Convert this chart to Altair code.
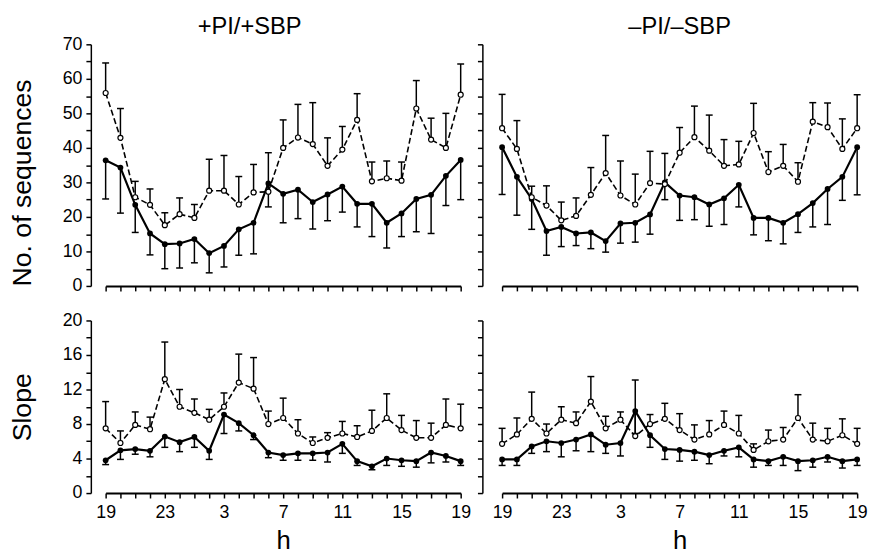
import altair as alt
import pandas as pd

FONT = "Liberation Sans"

# hour index 0..24  ->  19, 20, ..., 23, 0, ..., 18, 19 (h)
hour_idx = list(range(25))

# ---------- +PI/+SBP : No. of sequences ----------
seq_a_solid = [36.4, 34.3, 23.5, 15.2, 12.1, 12.3, 13.6, 9.5, 11.6, 16.4, 18.3, 29.7, 26.7,
               27.9, 24.3, 26.5, 28.8, 23.8, 23.8, 18.3, 21.0, 25.2, 26.4, 31.9, 36.5]
seq_a_solid_lo = [25.2, 21.1, 15.5, 9.0, 5.0, 5.2, 6.7, 3.8, 5.5, 8.9, 9.3, 22.9, 18.3,
                  19.5, 16.5, 18.9, 21.4, 17.1, 14.3, 11.0, 14.3, 15.7, 15.2, 23.3, 25.0]
seq_a_dash = [55.9, 42.9, 25.7, 23.5, 17.6, 20.8, 19.7, 27.6, 27.6, 23.6, 27.1, 27.3, 40.0,
              43.0, 41.1, 34.8, 39.5, 48.1, 30.3, 31.2, 30.5, 51.4, 42.4, 40.0, 55.4]
seq_a_dash_hi = [64.6, 51.4, 30.3, 28.1, 21.2, 25.5, 23.6, 36.7, 37.8, 31.7, 35.2, 38.6, 48.1,
                 52.6, 53.1, 42.9, 46.2, 55.7, 35.9, 36.2, 35.9, 59.5, 48.6, 50.0, 64.3]

# ---------- -PI/-SBP : No. of sequences ----------
seq_b_solid = [40.2, 31.6, 25.2, 15.9, 17.1, 15.2, 15.5, 13.0, 18.1, 18.3, 20.7, 30.0, 26.2,
               25.7, 23.6, 25.4, 29.3, 19.7, 19.7, 18.3, 20.8, 24.0, 28.1, 31.6, 40.2]
seq_b_solid_lo = [26.5, 20.5, 16.4, 8.9, 11.4, 11.7, 10.8, 9.8, 12.4, 12.7, 15.0, 25.0, 19.0,
                  19.2, 17.3, 17.8, 22.9, 14.8, 13.1, 12.2, 15.5, 17.1, 17.8, 24.8, 26.4]
seq_b_dash = [45.7, 39.7, 25.7, 23.3, 19.0, 20.3, 26.4, 32.7, 26.2, 23.6, 29.8, 29.5, 38.6,
              43.1, 39.2, 34.8, 35.2, 44.3, 33.0, 34.8, 30.2, 47.6, 46.0, 39.7, 45.7]
seq_b_dash_hi = [55.5, 47.9, 28.9, 29.0, 24.3, 25.5, 34.3, 43.6, 36.2, 32.4, 39.0, 38.4, 45.9,
                 52.1, 49.5, 42.4, 41.9, 52.9, 38.9, 41.0, 35.7, 53.1, 53.0, 48.4, 55.4]

# ---------- +PI/+SBP : Slope ----------
slope_a_solid = [3.8, 4.95, 5.1, 4.9, 6.55, 5.9, 6.5, 4.9, 9.1, 8.1, 6.7, 4.7, 4.4,
                 4.6, 4.6, 4.7, 5.7, 3.7, 3.1, 4.0, 3.8, 3.7, 4.7, 4.3, 3.7]
slope_a_solid_lo = [3.3, 3.9, 4.5, 4.2, 5.3, 4.8, 5.3, 3.9, 6.9, 7.2, 6.2, 4.1, 3.8,
                    3.8, 3.8, 3.6, 4.6, 3.2, 2.7, 3.2, 3.1, 3.0, 3.5, 3.6, 3.2]
slope_a_dash = [7.5, 5.8, 7.9, 7.4, 13.2, 10.0, 9.3, 8.5, 10.0, 12.8, 12.1, 8.0, 8.7,
                6.9, 5.8, 6.4, 6.9, 6.5, 7.2, 8.7, 7.3, 6.4, 6.4, 7.9, 7.5]
slope_a_dash_hi = [10.6, 7.2, 9.4, 8.8, 17.5, 12.0, 10.9, 9.7, 11.6, 16.1, 15.7, 9.5, 11.0,
                   8.5, 6.5, 7.0, 8.3, 7.8, 9.6, 11.5, 9.0, 8.4, 8.1, 10.9, 10.3]

# ---------- -PI/-SBP : Slope ----------
slope_b_solid = [3.9, 3.9, 5.4, 6.0, 5.8, 6.2, 6.8, 5.6, 5.8, 9.5, 6.7, 5.1, 5.0,
                 4.8, 4.4, 4.9, 5.3, 3.9, 3.7, 4.2, 3.7, 3.8, 4.2, 3.7, 3.9]
slope_b_solid_lo = [3.2, 3.2, 4.6, 4.8, 4.2, 4.9, 4.8, 4.6, 4.3, 6.9, 5.3, 3.9, 3.7,
                    3.8, 3.4, 4.3, 4.2, 3.0, 3.2, 3.2, 2.6, 3.0, 3.6, 2.9, 3.2]
slope_b_dash = [5.7, 6.8, 8.6, 6.9, 8.5, 8.1, 10.6, 7.5, 8.5, 6.6, 8.0, 8.6, 7.3,
                6.2, 6.8, 7.9, 6.9, 5.0, 6.0, 6.2, 8.7, 6.2, 6.0, 6.7, 5.7]
slope_b_dash_hi = [7.5, 8.7, 11.7, 8.0, 10.0, 9.4, 13.5, 8.9, 9.4, 13.1, 9.1, 10.4, 9.2,
                   7.9, 8.4, 9.5, 9.0, 5.7, 7.3, 7.6, 11.4, 8.1, 7.5, 8.6, 7.5]


def make_panel(solid, solid_lo, dash, dash_hi, ymax, ystep, ylab_step, ytitle,
               left, bottom, width, height, title=None, title_dx=0, title_dy=0,
               ytitle_y=None):
    df_s = pd.DataFrame({"idx": hour_idx, "value": solid, "end": solid_lo})
    df_d = pd.DataFrame({"idx": hour_idx, "value": dash, "end": dash_hi})

    x_axis = alt.Axis(
        values=hour_idx, grid=False, ticks=True, tickSize=5, tickWidth=1.5,
        domainWidth=2, labels=bottom,
        labelExpr="datum.value % 4 == 0 ? '' + ((datum.value + 19) % 24) : ''",
        labelFontSize=18, labelPadding=6, labelFlush=False,
        title="h" if bottom else None, titleFontSize=26, titleFontWeight="normal",
        titlePadding=6,
    )
    x = alt.X("idx:Q", scale=alt.Scale(domain=[0, 24], nice=False, zero=False), axis=x_axis)

    if left:
        yargs = dict(
            values=list(range(0, ymax + 1, ystep)), grid=False, tickSize=5, tickWidth=1.5,
            domainWidth=1.5, offset=15, labelFontSize=18, labelPadding=4,
            labelExpr=f"datum.value % {ylab_step} == 0 ? datum.label : ''",
            title=ytitle, titleFontSize=27, titleFontWeight="normal", titlePadding=26,
        )
        if ytitle_y is not None:
            yargs["titleY"] = ytitle_y
        y_axis = alt.Axis(**yargs)
    else:
        y_axis = alt.Axis(
            values=list(range(0, ymax + 1, ystep)), grid=False, tickSize=5, tickWidth=1.5,
            domainWidth=1.5, offset=20, labels=False, title=None,
        )
    y_scale = alt.Scale(domain=[0, ymax], nice=False, zero=True)

    def enc(chart, field="value"):
        return chart.encode(x=x, y=alt.Y(f"{field}:Q", scale=y_scale, axis=y_axis))

    layers = []
    for df in (df_s, df_d):
        layers.append(alt.Chart(df).mark_rule(color="black", strokeWidth=1.5).encode(
            x=x, y=alt.Y("value:Q", scale=y_scale, axis=y_axis), y2="end:Q"))
        layers.append(enc(alt.Chart(df).mark_tick(
            orient="horizontal", size=7, thickness=1.5, color="black", opacity=1), "end"))
    layers.append(enc(alt.Chart(df_d).mark_line(color="black", strokeWidth=1.6,
                                                 strokeDash=[6, 3])))
    layers.append(enc(alt.Chart(df_s).mark_line(color="black", strokeWidth=2.2)))
    layers.append(enc(alt.Chart(df_s).mark_circle(size=34, color="black", opacity=1)))
    layers.append(enc(alt.Chart(df_d).mark_point(shape="circle", filled=True, fill="white",
                                                  stroke="black", strokeWidth=1.2,
                                                  size=26, opacity=1)))
    ch = alt.layer(*layers).properties(width=width, height=height)
    if title is not None:
        ch = ch.properties(title=alt.TitleParams(
            title, fontSize=24, fontWeight="normal", frame="group", offset=9,
            baseline="alphabetic", anchor="middle", dx=title_dx, dy=title_dy,
            color="black", font=FONT))
    return ch


W = 360
tl = make_panel(seq_a_solid, seq_a_solid_lo, seq_a_dash, seq_a_dash_hi, 70, 5, 10,
                "No. of sequences", True, False, W, 245, "+PI/+SBP", -34, 32, 140)
tr = make_panel(seq_b_solid, seq_b_solid_lo, seq_b_dash, seq_b_dash_hi, 70, 5, 10,
                "", False, False, W, 245, "\u2013PI/\u2013SBP", 0, 23)
bl = make_panel(slope_a_solid, slope_a_solid_lo, slope_a_dash, slope_a_dash_hi, 20, 2, 4,
                "Slope", True, True, W, 175)
br = make_panel(slope_b_solid, slope_b_solid_lo, slope_b_dash, slope_b_dash_hi, 20, 2, 4,
                "", False, True, W, 175)

chart = alt.concat(tl, tr, bl, br, columns=2, spacing={"row": 35, "column": 42},
                   bounds="flush").properties(
    padding={"left": 0, "top": 3, "right": 0, "bottom": 0}
).configure(font=FONT).configure_axis(
    domainColor="black", tickColor="black", labelColor="black", titleColor="black",
    labelFont=FONT, titleFont=FONT,
).configure_view(stroke=None)

chart.save("out.html", embed_options={"renderer": "svg", "actions": False})
